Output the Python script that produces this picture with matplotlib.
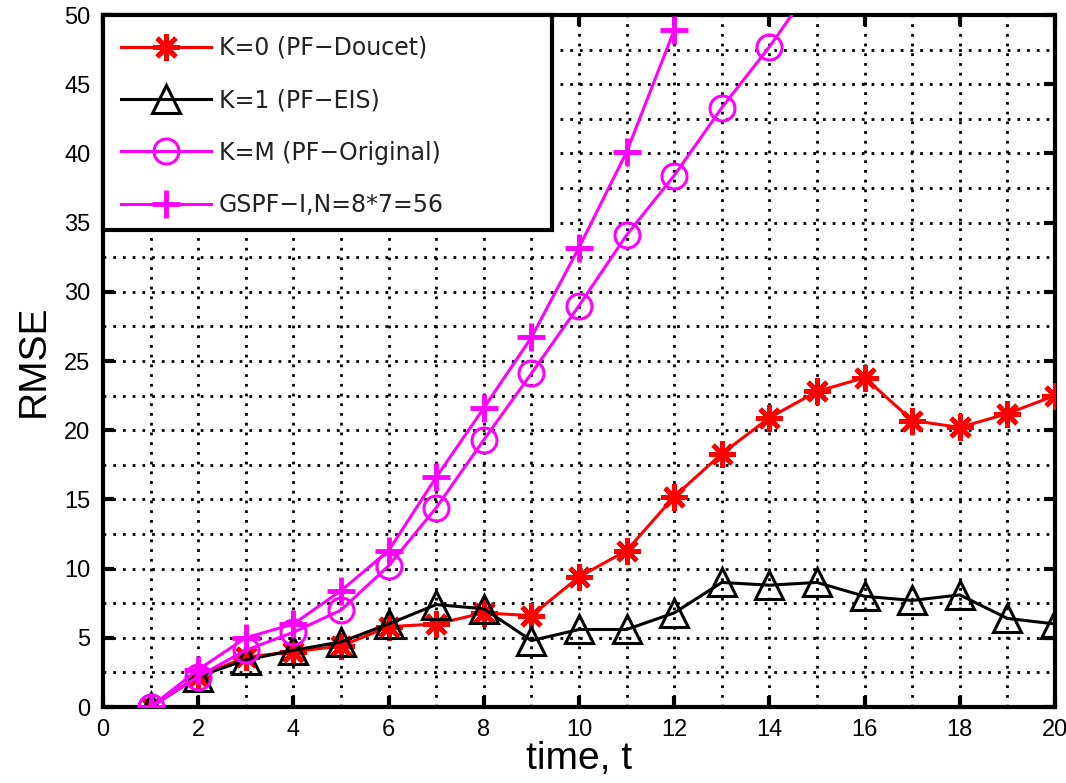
import matplotlib
matplotlib.use("Agg")
import matplotlib.pyplot as plt
from matplotlib.ticker import MultipleLocator
from matplotlib.patches import Rectangle

plt.rcParams['font.family'] = ['Liberation Sans', 'DejaVu Sans']

t_k0 = list(range(1, 21))
rmse_k0 = [0, 2.2, 3.6, 4.0, 4.4, 5.8, 6.0, 6.8, 6.6, 9.4, 11.3, 15.2, 18.3,
           20.9, 22.8, 23.8, 20.7, 20.2, 21.2, 22.5]
t_k1 = list(range(1, 21))
rmse_k1 = [0, 2.2, 3.4, 4.1, 4.7, 6.0, 7.4, 7.1, 4.8, 5.6, 5.6, 6.8, 9.0,
           8.8, 9.0, 8.0, 7.7, 8.1, 6.4, 6.0]
t_km = list(range(1, 16))
rmse_km = [0, 2.2, 4.1, 5.4, 7.0, 10.2, 14.4, 19.3, 24.1, 29.0, 34.1, 38.4,
           43.3, 47.7, 52.6]
t_gs = list(range(1, 13))
rmse_gs = [0, 2.7, 5.0, 6.0, 8.4, 11.3, 16.6, 21.6, 26.7, 33.2, 40.1, 48.9]

labels = ["K=0 (PF\u2212Doucet)", "K=1 (PF\u2212EIS)",
          "K=M (PF\u2212Original)", "GSPF\u2212I,N=8*7=56"]

W, H = 1066, 783
fig = plt.figure(figsize=(W / 100, H / 100), dpi=100)
ax = fig.add_axes([103 / W, 1 - 707 / H, (1055 - 103) / W, (707 - 15) / H])

asterisk = (8, 2, 0)
ax.plot(t_k0, rmse_k0, color='red', lw=2.2, marker=asterisk, ms=19, mew=3.4,
        label=labels[0], zorder=3)
ax.plot(t_k1, rmse_k1, color='black', lw=2.2, marker='^', ms=20, mew=2.2,
        mfc='none', label=labels[1], zorder=3)
ax.plot(t_km, rmse_km, color='magenta', lw=2.2, marker='o', ms=18, mew=2.2,
        mfc='none', label=labels[2], zorder=3)
ax.plot(t_gs, rmse_gs, color='magenta', lw=2.2, marker='+', ms=20, mew=3.5,
        label=labels[3], zorder=3)

ax.set_xlim(0, 20)
ax.set_ylim(0, 50)
ax.xaxis.set_major_locator(MultipleLocator(2))
ax.xaxis.set_minor_locator(MultipleLocator(1))
ax.yaxis.set_major_locator(MultipleLocator(5))
ax.yaxis.set_minor_locator(MultipleLocator(2.5))
ax.grid(which='both', color='black', linestyle=(0, (1, 2.5)), linewidth=2)
ax.tick_params(which='major', direction='in', length=8, width=3,
               top=True, right=True, labelsize=17, pad=9)
ax.tick_params(which='minor', length=0)
for s in ax.spines.values():
    s.set_linewidth(3)
ax.set_xlabel("time, t", fontsize=28, labelpad=0)
ax.set_ylabel("RMSE", fontsize=28, labelpad=9)

# legend box (MATLAB style, wider than its contents)
box = Rectangle((0, (707 - 230) / (707 - 15)), (552 - 103) / (1055 - 103),
                (230 - 15) / (707 - 15), transform=ax.transAxes,
                facecolor='white', edgecolor='black', lw=3, zorder=5,
                clip_on=False)
ax.add_patch(box)
leg = fig.legend(*ax.get_legend_handles_labels(), loc='upper left',
                 bbox_to_anchor=(121 / W, 1 - 36 / H), borderaxespad=0,
                 borderpad=0, frameon=False,
                 prop={'family': 'DejaVu Sans', 'size': 17},
                 handlelength=3.8, handletextpad=0.35, labelspacing=1.2)
leg.set_zorder(6)
for txt in leg.get_texts():
    txt.set_color('#222222')

fig.savefig("out.png", dpi=100)
